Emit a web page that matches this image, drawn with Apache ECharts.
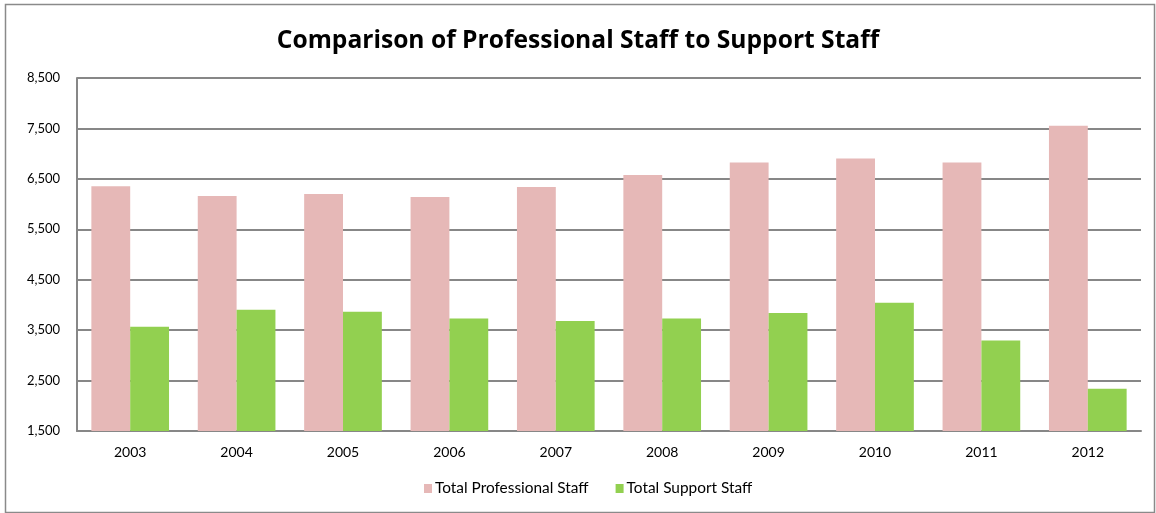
<!DOCTYPE html>
<html>
<head>
<meta charset="utf-8">
<script src="https://cdn.jsdelivr.net/npm/echarts@6/dist/echarts.min.js"></script>
<style>
  html, body { margin: 0; padding: 0; background: #fff; }
  #chart { width: 1156px; height: 513px; }
</style>
</head>
<body>
<div id="chart"></div>
<script>
// Staff counts by year
const years = ['2003', '2004', '2005', '2006', '2007', '2008', '2009', '2010', '2011', '2012'];
const professionalStaff = [6355, 6160, 6200, 6140, 6340, 6575, 6825, 6905, 6825, 7555];
const supportStaff = [3565, 3905, 3865, 3730, 3680, 3730, 3840, 4045, 3295, 2340];
const yTicks = { min: 1500, max: 8500, step: 1000 };

const FONT = 'Lato, "Liberation Sans", sans-serif';
const TITLE_FONT = '"Open Sans", Lato, sans-serif';
const GRID_GRAY = '#878787';

const chart = echarts.init(document.getElementById('chart'), null, { renderer: 'canvas' });

chart.setOption({
  backgroundColor: '#ffffff',
  animation: false,
  title: {
    text: 'Comparison of Professional Staff to Support Staff',
    left: 'center',
    top: 23,
    padding: [5, 0, 5, 10],
    textStyle: { fontFamily: TITLE_FONT, fontSize: 24.6, fontWeight: 'bold', color: '#000' }
  },
  graphic: [{
    type: 'rect',
    left: 3, top: 2,
    shape: { width: 1149, height: 508 },
    style: { fill: 'none', stroke: '#8a8a8a', lineWidth: 1.5 },
    silent: true
  }],
  legend: {
    bottom: 12,
    left: 419,
    padding: 5,
    icon: 'rect',
    itemWidth: 8,
    itemHeight: 9,
    itemGap: 27,
    textStyle: { fontFamily: FONT, fontSize: 15.4, color: '#000', padding: [0, 0, 0, -2] },
    data: ['Total Professional Staff', 'Total Support Staff']
  },
  grid: { left: 77, right: 15, top: 78, bottom: 82, containLabel: false },
  xAxis: {
    type: 'category',
    data: years,
    axisLine: { show: true, lineStyle: { color: GRID_GRAY, width: 2 } },
    axisTick: { show: false },
    axisLabel: { fontFamily: FONT, fontSize: 14, color: '#000', margin: 14 }
  },
  yAxis: {
    type: 'value',
    min: yTicks.min,
    max: yTicks.max,
    interval: yTicks.step,
    axisLine: { show: true, lineStyle: { color: GRID_GRAY, width: 2 } },
    axisTick: { show: false },
    splitLine: { show: true, lineStyle: { color: GRID_GRAY, width: 2 } },
    axisLabel: {
      fontFamily: FONT, fontSize: 13, color: '#000', margin: 17,
      formatter: v => v.toLocaleString('en-US')
    }
  },
  series: [
    {
      name: 'Total Professional Staff',
      type: 'bar',
      data: professionalStaff,
      barGap: '0%',
      barCategoryGap: '27%',
      itemStyle: { color: '#E6B8B7' }
    },
    {
      name: 'Total Support Staff',
      type: 'bar',
      data: supportStaff,
      itemStyle: { color: '#92D050' }
    }
  ]
});
</script>
</body>
</html>
